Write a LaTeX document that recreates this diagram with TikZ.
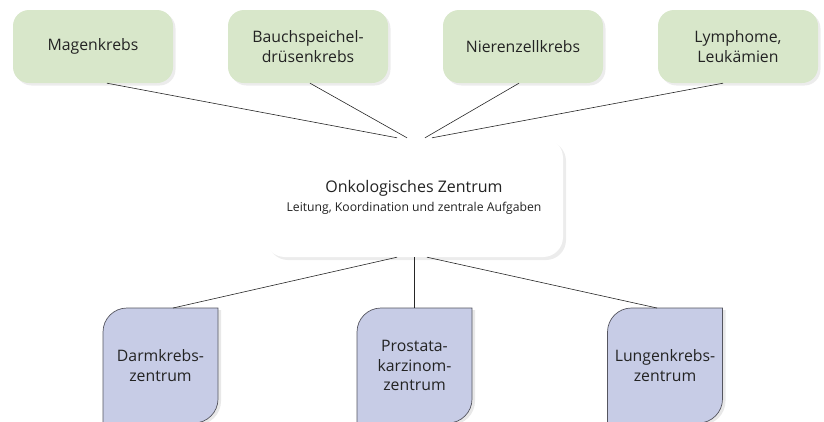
\documentclass[tikz,border=0pt]{standalone}
\usepackage{fontspec}
\setmainfont{Open Sans}
\usetikzlibrary{shadows}

\definecolor{gruen}{RGB}{216,231,202}
\definecolor{blaugrau}{RGB}{199,204,230}
\definecolor{rahmen}{RGB}{85,85,95}
\definecolor{schrift}{RGB}{35,35,35}

\tikzset{
    organ/.style={
      rectangle, rounded corners=16, fill=gruen, text=schrift,
      minimum width=160, minimum height=73, align=center,
      font=\fontsize{15.8}{20}\selectfont,
      drop shadow={shadow xshift=2.5pt, shadow yshift=-2.5pt, opacity=0.15}
    },
    zentrum/.style={
      rectangle, rounded corners=20, fill=white, text=schrift,
      minimum width=298, minimum height=119, align=center,
      font=\fontsize{16}{21}\selectfont,
      drop shadow={shadow xshift=3pt, shadow yshift=-3pt, opacity=0.15}
    },
    teiltext/.style={
      text=schrift, align=center, font=\fontsize{15.8}{19.5}\selectfont
    },
    verbindung/.style={draw=black!85, line width=0.6pt}
  }
\tikzset{
    pics/teil/.style={
      code={
        \filldraw[draw=rahmen, fill=blaugrau, line width=0.7pt,
          drop shadow={shadow xshift=3pt, shadow yshift=-2pt, opacity=0.18}]
          (57.5,57.5) -- (-33.5,57.5) arc[start angle=90, end angle=180, radius=24]
          -- (-57.5,-57.5) -- (33.5,-57.5) arc[start angle=270, end angle=360, radius=24]
          -- cycle;
      }
    }
  }

\begin{document}
\begin{tikzpicture}[x=1pt, y=1pt]
    \clip (0,0) rectangle (824,-421);

    % Organkrebse oben
    \node[organ] (mag) at (93,-46.5) {Magenkrebs};
    \node[organ] (pank) at (308,-46.5) {Bauchspeichel-\\drüsenkrebs};
    \node[organ] (niere) at (523,-46.5) {Nierenzellkrebs};
    \node[organ] (lymph) at (738,-46.5) {Lymphome,\\Leukämien};

    % Zentrum
    \node[zentrum] (onko) at (414,-197.5) {Onkologisches Zentrum\\[-2pt]
      {\fontsize{12.2}{14}\selectfont Leitung, Koordination und zentrale Aufgaben}};

    % Organzentren unten
    \draw (160.5,-365.5) pic{teil};
    \draw (414.5,-365.5) pic{teil};
    \draw (665,-365.5) pic{teil};
    \node[teiltext] (darm) at (160.5,-365.5) {Darmkrebs-\\zentrum};
    \node[teiltext] (prost) at (414.5,-365.5) {Prostata-\\karzinom-\\zentrum};
    \node[teiltext] (lunge) at (665,-365.5) {Lungenkrebs-\\zentrum};
    \coordinate (darmtop) at (173,-308);
    \coordinate (prosttop) at (414,-308);
    \coordinate (lungetop) at (657,-308);

    \draw[verbindung] ([xshift=14pt]mag.south) -- ([xshift=-17pt]onko.north);
    \draw[verbindung] ([xshift=2pt]pank.south) -- ([xshift=-7pt]onko.north);
    \draw[verbindung] ([xshift=-4pt]niere.south) -- ([xshift=11pt]onko.north);
    \draw[verbindung] ([xshift=-15pt]lymph.south) -- ([xshift=18pt]onko.north);

    \draw[verbindung] (darmtop) -- ([xshift=-17pt]onko.south);
    \draw[verbindung, line width=1pt] (prosttop) -- (onko.south);
    \draw[verbindung] (lungetop) -- ([xshift=13pt]onko.south);
\end{tikzpicture}
\end{document}
